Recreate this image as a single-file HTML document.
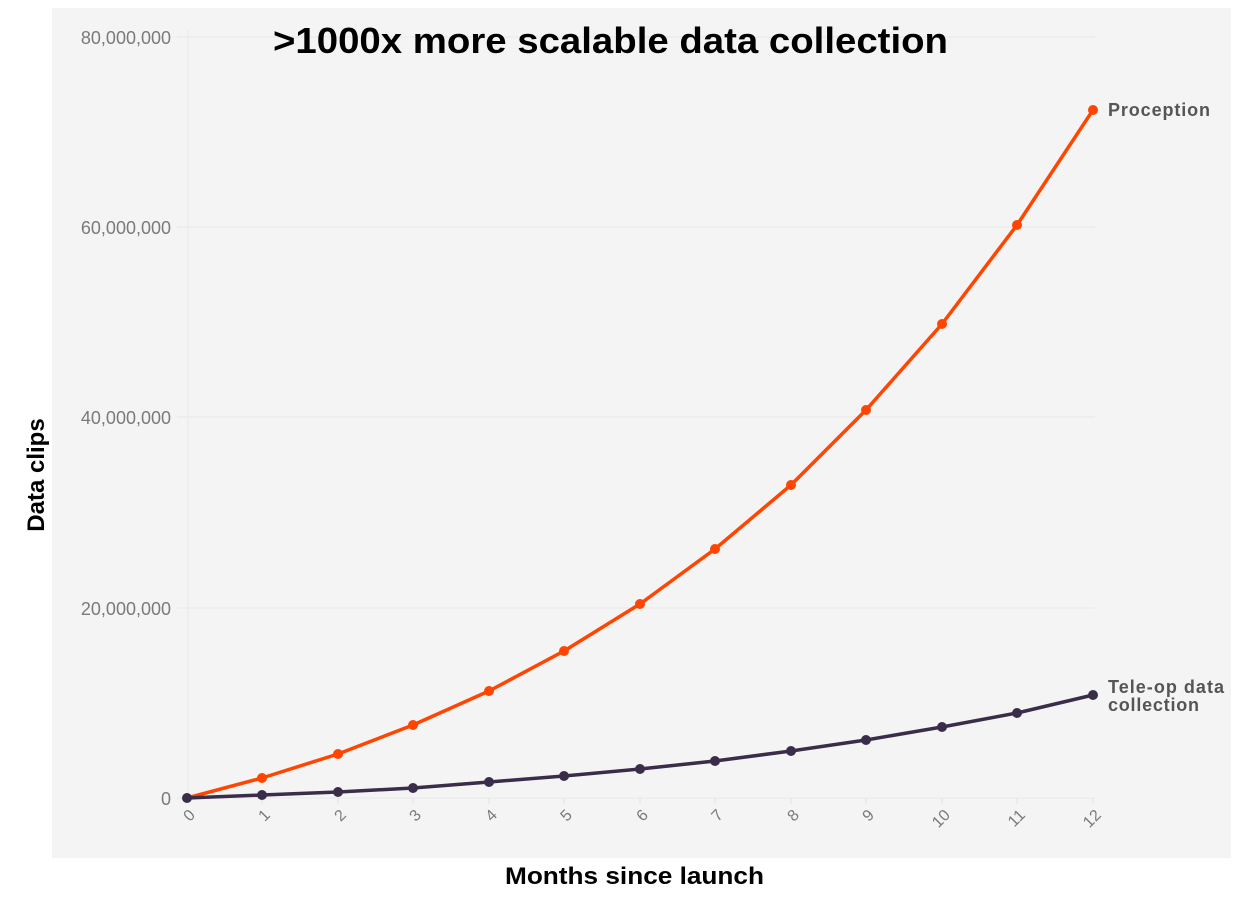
<!DOCTYPE html>
<html><head><meta charset="utf-8"><style>
html,body{margin:0;padding:0;background:#fff;}
svg{display:block;}
</style></head><body>
<svg width="1241" height="899" xmlns="http://www.w3.org/2000/svg" font-family="Liberation Sans, sans-serif">
<rect x="52" y="8" width="1179" height="850" fill="#f4f4f4"/>
<g stroke="#e9e9e9" stroke-width="1">
<line x1="177" y1="37" x2="1095" y2="37"/>
<line x1="177" y1="227" x2="1095" y2="227"/>
<line x1="177" y1="417" x2="1095" y2="417"/>
<line x1="177" y1="608" x2="1095" y2="608"/>
<line x1="177" y1="798" x2="1095" y2="798"/>
<line x1="188" y1="30" x2="188" y2="798"/>
</g>
<g stroke="#e2e2e2" stroke-width="1">
<line x1="262" y1="798" x2="262" y2="804"/><line x1="338" y1="798" x2="338" y2="804"/><line x1="413" y1="798" x2="413" y2="804"/><line x1="489" y1="798" x2="489" y2="804"/><line x1="564" y1="798" x2="564" y2="804"/><line x1="640" y1="798" x2="640" y2="804"/><line x1="715" y1="798" x2="715" y2="804"/><line x1="791" y1="798" x2="791" y2="804"/><line x1="866" y1="798" x2="866" y2="804"/><line x1="942" y1="798" x2="942" y2="804"/><line x1="1017" y1="798" x2="1017" y2="804"/><line x1="1093" y1="798" x2="1093" y2="804"/>
</g>
<g fill="#7a7a7a" font-size="18" text-anchor="end">
<text x="171" y="44">80,000,000</text>
<text x="171" y="234">60,000,000</text>
<text x="171" y="424">40,000,000</text>
<text x="171" y="615">20,000,000</text>
<text x="171" y="805">0</text>
</g>
<g fill="#7a7a7a" font-size="16" text-anchor="end">
<text transform="translate(196,816) rotate(-45)">0</text>
<text transform="translate(271,816) rotate(-45)">1</text>
<text transform="translate(347,816) rotate(-45)">2</text>
<text transform="translate(422,816) rotate(-45)">3</text>
<text transform="translate(498,816) rotate(-45)">4</text>
<text transform="translate(573,816) rotate(-45)">5</text>
<text transform="translate(649,816) rotate(-45)">6</text>
<text transform="translate(724,816) rotate(-45)">7</text>
<text transform="translate(800,816) rotate(-45)">8</text>
<text transform="translate(875,816) rotate(-45)">9</text>
<text transform="translate(951,816) rotate(-45)">10</text>
<text transform="translate(1026,816) rotate(-45)">11</text>
<text transform="translate(1102,816) rotate(-45)">12</text>
</g>
<polyline fill="none" stroke="#ff4500" stroke-width="3.5" stroke-linejoin="round" points="187,798 262,778 338,754 413,725 489,691 564,651 640,604 715,549 791,485 866,410 942,324 1017,225 1093,110"/>
<g fill="#ff4500">
<circle cx="262" cy="778" r="5"/><circle cx="338" cy="754" r="5"/><circle cx="413" cy="725" r="5"/><circle cx="489" cy="691" r="5"/><circle cx="564" cy="651" r="5"/><circle cx="640" cy="604" r="5"/><circle cx="715" cy="549" r="5"/><circle cx="791" cy="485" r="5"/><circle cx="866" cy="410" r="5"/><circle cx="942" cy="324" r="5"/><circle cx="1017" cy="225" r="5"/><circle cx="1093" cy="110" r="5"/>
</g>
<polyline fill="none" stroke="#3a2d4a" stroke-width="3.5" stroke-linejoin="round" points="187,798 262,795 338,792 413,788 489,782 564,776 640,769 715,761 791,751 866,740 942,727 1017,713 1093,695"/>
<g fill="#3a2d4a">
<circle cx="187" cy="798" r="5"/><circle cx="262" cy="795" r="5"/><circle cx="338" cy="792" r="5"/><circle cx="413" cy="788" r="5"/><circle cx="489" cy="782" r="5"/><circle cx="564" cy="776" r="5"/><circle cx="640" cy="769" r="5"/><circle cx="715" cy="761" r="5"/><circle cx="791" cy="751" r="5"/><circle cx="866" cy="740" r="5"/><circle cx="942" cy="727" r="5"/><circle cx="1017" cy="713" r="5"/><circle cx="1093" cy="695" r="5"/>
</g>
<g fill="#555" font-size="18" font-weight="bold">
<text x="1108" y="116" textLength="102">Proception</text>
<text x="1108" y="693" textLength="116">Tele-op data</text>
<text x="1108" y="711" textLength="91">collection</text>
</g>
<text x="273" y="53" font-size="36" font-weight="bold" fill="#000" textLength="675" lengthAdjust="spacingAndGlyphs">&gt;1000x more scalable data collection</text>
<text x="505" y="884" font-size="24" font-weight="bold" fill="#000" textLength="259" lengthAdjust="spacingAndGlyphs">Months since launch</text>
<text transform="translate(44,475) rotate(-90)" font-size="24" font-weight="bold" fill="#000" text-anchor="middle">Data clips</text>
</svg>
</body></html>
